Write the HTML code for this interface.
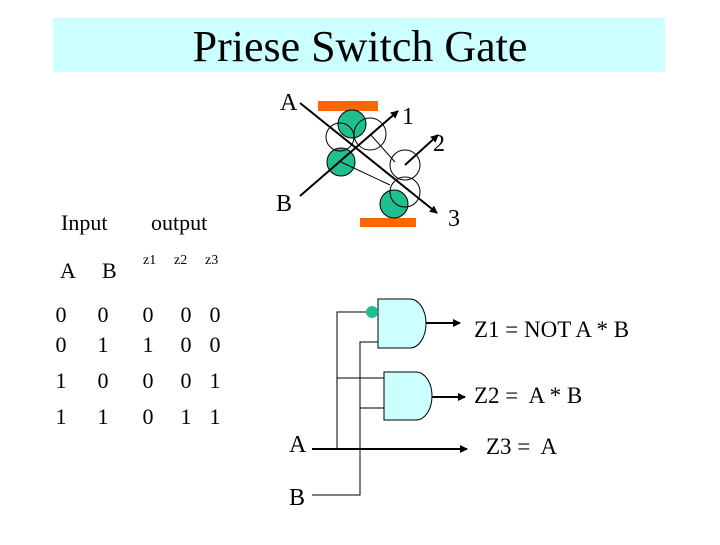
<!DOCTYPE html>
<html><head><style>
body{margin:0;width:720px;height:540px;background:#fff;overflow:hidden}
text{white-space:pre}
</style></head><body>
<svg width="720" height="540" xmlns="http://www.w3.org/2000/svg" font-family="Liberation Serif, serif">
<defs><marker id="ar" markerWidth="8" markerHeight="8" refX="7" refY="4" orient="auto" markerUnits="userSpaceOnUse"><path d="M0,0 L8,4 L0,8 z" fill="#000"/></marker></defs>
<rect x="53" y="18" width="612" height="54" fill="#ccffff"/>
<text x="360" y="61" font-size="44" text-anchor="middle">Priese Switch Gate</text>

<rect x="318" y="101" width="60" height="10" fill="#ff6600"/>
<rect x="360" y="218" width="56" height="9" fill="#ff6600"/>
<circle cx="352" cy="124" r="14" fill="#1fbf8f" stroke="#000"/>
<circle cx="341" cy="162" r="14" fill="#1fbf8f" stroke="#000"/>
<circle cx="394" cy="204" r="14" fill="#1fbf8f" stroke="#000"/>
<g fill="none" stroke="#000" stroke-width="1">
<circle cx="340" cy="137" r="14"/>
<circle cx="370" cy="134" r="16"/>
<circle cx="405" cy="165" r="15"/>
<circle cx="405" cy="192" r="15"/>
<line x1="370" y1="134" x2="395" y2="162"/>
<line x1="341" y1="162" x2="390" y2="185"/>
</g>
<g stroke="#000" stroke-width="2">
<line x1="300" y1="103" x2="437" y2="213" marker-end="url(#ar)"/>
<line x1="300" y1="196" x2="398" y2="111" marker-end="url(#ar)"/>
<line x1="405" y1="165" x2="438" y2="135" marker-end="url(#ar)"/>
</g>
<text x="280" y="110" font-size="24">A</text>
<text x="402" y="124" font-size="24">1</text>
<text x="433" y="151" font-size="24">2</text>
<text x="276" y="211" font-size="24">B</text>
<text x="448" y="226" font-size="24">3</text>

<g font-size="22">
<text x="61" y="230">Input</text>
<text x="151" y="230">output</text>
<text x="60" y="278">A</text><text x="102" y="278">B</text>
</g>
<g font-size="22" text-anchor="middle">
<text x="61" y="322">0</text><text x="103" y="322">0</text><text x="148" y="322">0</text><text x="186" y="322">0</text><text x="215" y="322">0</text>
<text x="61" y="352">0</text><text x="103" y="352">1</text><text x="148" y="352">1</text><text x="186" y="352">0</text><text x="215" y="352">0</text>
<text x="61" y="388">1</text><text x="103" y="388">0</text><text x="148" y="388">0</text><text x="186" y="388">0</text><text x="215" y="388">1</text>
<text x="61" y="424">1</text><text x="103" y="424">1</text><text x="148" y="424">0</text><text x="186" y="424">1</text><text x="215" y="424">1</text>
</g>
<g font-size="14"><text x="143" y="264">z1</text><text x="174" y="264">z2</text><text x="205" y="264">z3</text></g>

<path d="M378,299 H410 A16,24.5 0 0 1 410,348 H378 Z" fill="#ccffff" stroke="#000"/>
<path d="M384,372 H416 A16,24 0 0 1 416,420 H384 Z" fill="#ccffff" stroke="#000"/>
<circle cx="372" cy="312" r="6" fill="#1fbf8f"/>
<g stroke="#000" stroke-width="1" fill="none">
<polyline points="366,312 337,312 337,449"/>
<line x1="337" y1="378" x2="384" y2="378"/>
<polyline points="378,342 360,342 360,495 312,495"/>
<line x1="360" y1="408" x2="384" y2="408"/>
</g>
<g stroke="#000" stroke-width="2">
<line x1="426" y1="323" x2="460" y2="323" marker-end="url(#ar)"/>
<line x1="432" y1="397" x2="465" y2="397" marker-end="url(#ar)"/>
<line x1="312" y1="449" x2="467" y2="449" marker-end="url(#ar)"/>
</g>
<g font-size="24">
<text x="289" y="452">A</text>
<text x="289" y="505">B</text>
</g>
<g font-size="23">
<text x="474" y="337">Z1 = NOT A * B</text>
<text x="474" y="403">Z2 =  A * B</text>
<text x="486" y="454">Z3 =  A</text>
</g>
</svg>
</body></html>
